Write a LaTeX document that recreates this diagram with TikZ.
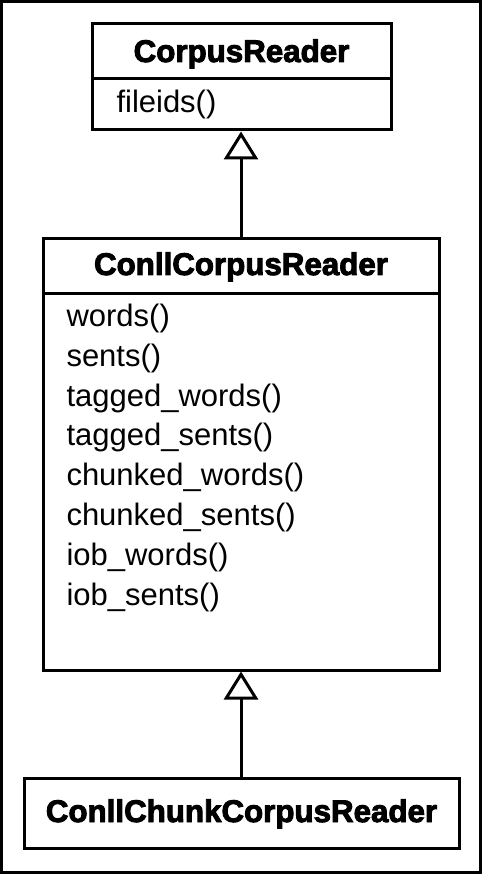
\documentclass[tikz,border=0pt]{standalone}
\usepackage{fontspec}
\setmainfont{Liberation Sans}
\newfontfamily\headfont[FakeBold=3]{Liberation Sans Bold}
\usetikzlibrary{arrows.meta}
\begin{document}
\begin{tikzpicture}[x=1pt,y=-1pt,line width=3pt,
  classbox/.style={draw,rectangle,inner sep=0pt},
  headtext/.style={anchor=base,inner sep=0pt,font=\headfont\fontsize{31.3}{36}\selectfont},
  itemtext/.style={anchor=base west,inner sep=0pt,font=\fontsize{31}{36}\selectfont},
  inherit/.style={-{Triangle[open,length=28pt,width=34pt]}}]
\useasboundingbox (0,0) rectangle (483,874);
\draw (1.5,1.5) rectangle (480.5,872);
% CorpusReader
\node[classbox,minimum width=299pt,minimum height=106pt] (cr) at (241.5,77) {};
\draw (cr.west |- 0,79) -- (cr.east |- 0,79);
\node[headtext] (crh) at (241.5,62) {CorpusReader};
\node[itemtext] (cr1) at (115,113) {fileids()};
% ConllCorpusReader
\node[classbox,minimum width=396pt,minimum height=431pt] (ccr) at (241,454.5) {};
\draw (ccr.west |- 0,293) -- (ccr.east |- 0,293);
\node[headtext] (ccrh) at (241,275) {ConllCorpusReader};
\node[itemtext] (m1) at (65,326.5) {words()};
\node[itemtext] (m2) at (65,366.3) {sents()};
\node[itemtext] (m3) at (65,406.1) {tagged\_words()};
\node[itemtext] (m4) at (65,445.9) {tagged\_sents()};
\node[itemtext] (m5) at (65,485.7) {chunked\_words()};
\node[itemtext] (m6) at (65,525.5) {chunked\_sents()};
\node[itemtext] (m7) at (65,565.3) {iob\_words()};
\node[itemtext] (m8) at (65,605.1) {iob\_sents()};
% ConllChunkCorpusReader
\node[classbox,minimum width=435pt,minimum height=70pt] (cccr) at (241.5,813) {};
\node[headtext] (cccrh) at (241.5,822) {ConllChunkCorpusReader};
% inheritance
\draw[inherit] (ccr.north -| 241,0) -- (cr.south -| 241,0);
\draw[inherit] (cccr.north -| 241,0) -- (ccr.south -| 241,0);
\end{tikzpicture}
\end{document}
